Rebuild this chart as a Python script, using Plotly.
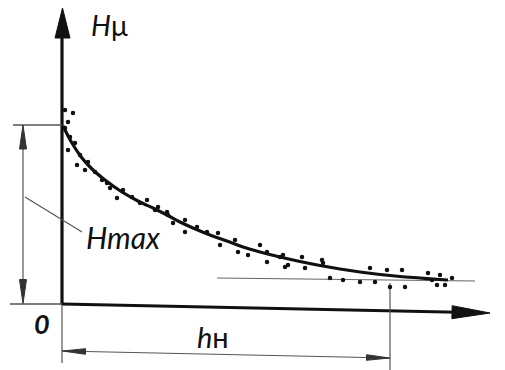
import math
import plotly.graph_objects as go

# ---- data (units: 1 unit = one tenth of the drawing's scale) ----
curve_x = [0.1, 1.0, 2.0, 3.0, 4.3, 6.0, 7.6, 9.3, 10.5, 11.8, 13.1, 14.8, 16.5, 18.1,
           19.8, 21.8, 23.8, 25.8, 27.8, 29.8, 31.8, 33.8, 35.8, 37.8, 38.6]
curve_h = [17.9, 16.2, 14.7, 13.6, 12.5, 11.3, 10.4, 9.6, 9.0, 8.3, 7.7, 7.0, 6.4, 5.8,
           5.3, 4.8, 4.35, 3.95, 3.6, 3.3, 3.05, 2.85, 2.7, 2.55, 2.5]

dots_x = [0.3, 1.1, 0.6, 0.3, 0.8, 1.3, 0.6, 1.8, 1.5, 2.6, 2.3, 3.3, 4.0, 4.5, 4.8, 5.5,
          6.1, 7.0, 7.8, 8.5, 9.3, 9.6, 10.6,
          10.5, 11.1, 12.3, 12.3, 13.5, 14.5, 15.6, 15.8, 17.3, 17.6, 18.6, 19.8, 20.5,
          20.5, 21.8, 22.6,
          22.1, 22.3, 24.0, 24.3, 26.0, 26.1, 26.8, 28.1, 29.8, 30.8, 31.3, 32.5, 32.8,
          34.0, 34.3, 36.6, 37.0, 37.5, 37.8, 38.3, 39.0]
dots_h = [19.5, 19.2, 18.3, 17.7, 16.8, 16.2, 15.5, 15.0, 14.0, 14.3, 13.5, 13.3, 12.5,
          12.2, 11.7, 10.7, 11.5, 10.8, 10.2, 10.5, 9.5, 9.8, 9.0,
          9.3, 8.2, 8.5, 7.3, 7.8, 7.3, 7.2, 6.0, 6.5, 5.3, 5.0, 6.0, 5.3, 4.3, 4.8, 4.0,
          5.0, 3.8, 4.8, 3.7, 4.5, 4.2, 2.7, 2.5, 2.3, 3.7, 2.3, 3.5, 1.8, 3.5, 1.8, 3.2,
          2.5, 2.0, 3.0, 2.0, 2.7]

h_max = 18.0          # Hmax level
h_n = 32.8            # hн distance
asym_x = [15.5, 41.3]  # asymptote line
asym_h = [2.7, 2.4]
x_axis_end = (42.8, -0.8)
y_axis_end = 29.7

fig = go.Figure()
BLACK = "#111111"
GRAY = "#555555"


def line(xs, ys, width, color):
    fig.add_trace(go.Scatter(x=xs, y=ys, mode="lines",
                             line=dict(color=color, width=width),
                             hoverinfo="skip", showlegend=False))


def head(tip, frm, length, half, color):
    dx, dy = tip[0] - frm[0], tip[1] - frm[1]
    n = math.hypot(dx, dy)
    dx, dy = dx / n, dy / n
    bx, by = tip[0] - length * dx, tip[1] - length * dy
    px, py = -dy, dx
    fig.add_trace(go.Scatter(
        x=[tip[0], bx + half * px, bx - half * px, tip[0]],
        y=[tip[1], by + half * py, by - half * py, tip[1]],
        mode="lines", fill="toself", fillcolor=color,
        line=dict(color=color, width=1), hoverinfo="skip", showlegend=False))


# axes
line([0, 0], [0, y_axis_end - 1.5], 3.2, BLACK)
head((0.05, y_axis_end), (0.05, 0), 3.0, 0.75, BLACK)
line([0, x_axis_end[0] - 2], [0.1, x_axis_end[1] + 0.05], 3.2, BLACK)
head(x_axis_end, (0, 0.1), 3.8, 0.65, BLACK)

# Hmax dimension
line([-4.9, 0], [h_max, h_max], 1.3, GRAY)
line([-5.2, 0], [0.1, 0.1], 1.3, GRAY)
line([-3.9, -3.9], [h_max - 1.5, 1.6], 1.2, GRAY)
head((-3.9, h_max), (-3.9, 0), 2.4, 0.35, "#333333")
head((-3.9, 0.15), (-3.9, h_max), 2.4, 0.35, "#333333")
line([-3.7, 2.0], [10.8, 7.3], 1.2, GRAY)

# hн dimension
line([0, 0], [0, -5.8], 1.2, GRAY)
line([h_n, h_n], [2.2, -6.5], 1.2, GRAY)
line([0, h_n], [-4.6, -5.3], 1.2, GRAY)
head((0.05, -4.6), (h_n, -5.3), 2.3, 0.28, "#333333")
head((h_n - 0.05, -5.3), (0, -4.6), 2.3, 0.28, "#333333")

# asymptote
line(asym_x, asym_h, 1.2, "#666666")

# scatter points and fitted curve
fig.add_trace(go.Scatter(x=dots_x, y=dots_h, mode="markers",
                         marker=dict(color=BLACK, size=4.5),
                         hoverinfo="skip", showlegend=False))
fig.add_trace(go.Scatter(x=curve_x, y=curve_h, mode="lines", line_shape="spline",
                         line=dict(color=BLACK, width=3.2),
                         hoverinfo="skip", showlegend=False))

FONT = "Lato"
labels = [
    (4.7, 28.0, "<i>H</i>μ", 28, "center"),
    (6.1, 6.8, "<i>Hmax</i>", 30, "center"),
    (45.2, 1.2, "<i>x</i>", 30, "center"),
    (-2.0, -1.8, "<b><i>0</i></b>", 27, "center"),
    (15.1, -3.1, "<i>h</i>н", 29, "center"),
]
for x, y, t, s, al in labels:
    fig.add_annotation(x=x, y=y, text=t, showarrow=False, xanchor=al,
                       yanchor="middle", font=dict(family=FONT, size=s, color=BLACK))

fig.update_layout(
    width=505, height=370, margin=dict(l=0, r=0, t=0, b=0),
    paper_bgcolor="white", plot_bgcolor="white",
    xaxis=dict(range=[-6.2, 44.3], visible=False, fixedrange=True),
    yaxis=dict(range=[-6.5, 30.5], visible=False, fixedrange=True),
    showlegend=False,
)
fig.write_html("out.html")
